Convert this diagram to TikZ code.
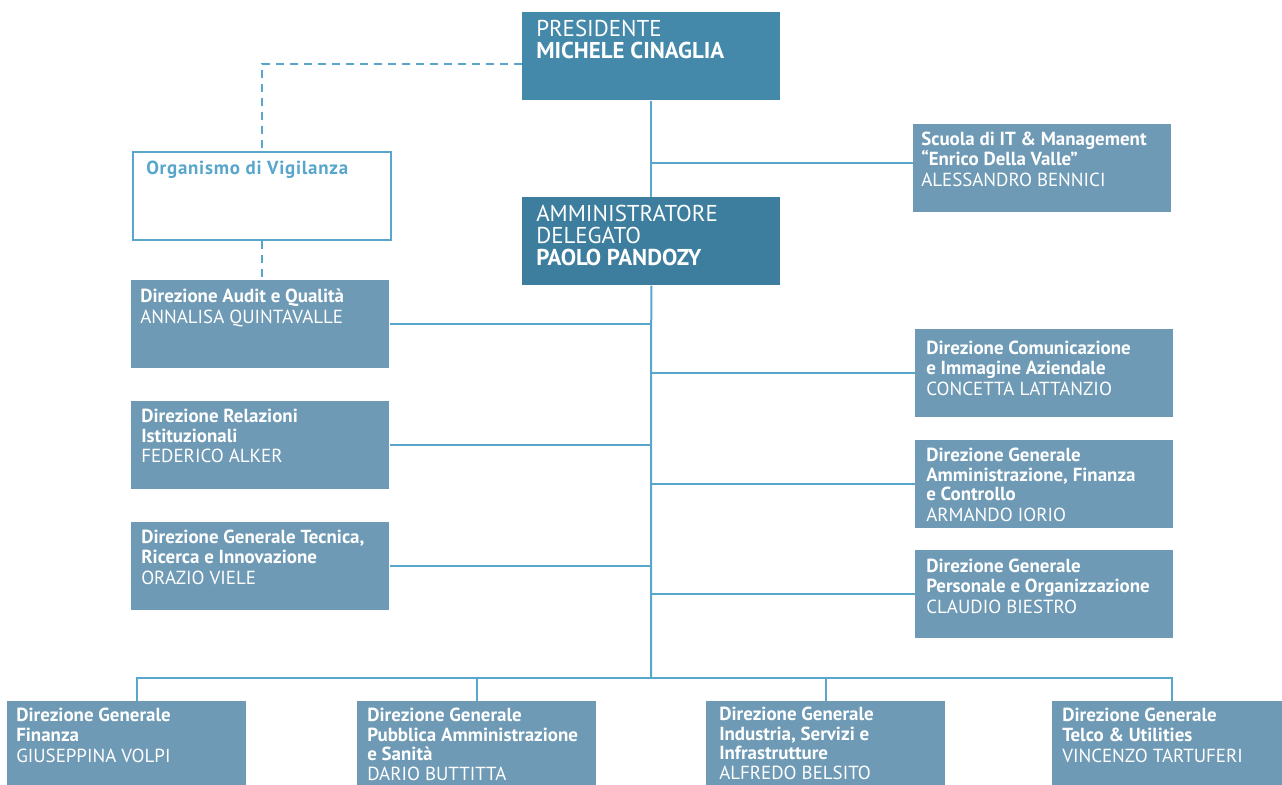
\documentclass[tikz,border=0pt]{standalone}
\usepackage{fontspec}
\setmainfont{PT Sans}
\newfontfamily\spacedfont[LetterSpace=4]{PT Sans}
\usetikzlibrary{positioning}
\definecolor{linkblue}{RGB}{88,166,204}
\definecolor{topblue}{RGB}{69,137,170}
\definecolor{headblue}{RGB}{61,125,158}
\definecolor{unitblue}{RGB}{110,154,181}
\tikzset{unitbox/.style={anchor=north west, fill=unitblue, minimum width=193.5pt, minimum height=66pt, inner sep=0pt},
lowerbox/.style={unitbox, minimum width=179.25pt},
topbox/.style={unitbox, fill=topblue},
unittext/.style={anchor=north west, inner sep=0pt, align=left, text=white, font=\fontsize{14.2}{14.6}\selectfont},
toptext/.style={unittext, font=\fontsize{17.2}{16.3}\selectfont},
link/.style={draw=linkblue, line width=1.5pt},
dashlink/.style={link, dash pattern=on 6pt off 4.5pt}}

\begin{document}
\begin{tikzpicture}[x=0.75pt, y=-0.75pt]
    \useasboundingbox (0,0) rectangle (1282,785);

    % Top level
    \node[topbox] (pres) at (522,12) {};
    \node[toptext] (pres-text) at ([shift={(14,8)}]pres.north west) {PRESIDENTE\\\textbf{MICHELE CINAGLIA}};
    \node[topbox, fill=headblue] (ad) at (522,197) {};
    \node[toptext] (ad-text) at ([shift={(14,8)}]ad.north west) {AMMINISTRATORE\\DELEGATO\\\textbf{PAOLO PANDOZY}};

    \node[unitbox, fill=white, draw=linkblue, line width=1.5pt] (odv) at (132,151) {};
    \node[unittext, text=linkblue] (odv-text) at ([shift={(14,10)}]odv.north west) {\spacedfont\bfseries Organismo di Vigilanza};

    \node[unitbox] (scuola) at (913,124) {};
    \node[unittext] (scuola-text) at ([shift={(8,8)}]scuola.north west) {\textbf{Scuola di IT \& Management}\\\textbf{``Enrico Della Valle''}\\[1pt]ALESSANDRO BENNICI};

    % Staff directions, left
    \node[unitbox] (audit) at (131,280) {};
    \node[unittext] (audit-text) at ([shift={(9,9)}]audit.north west) {\textbf{Direzione Audit e Qualità}\\[1pt]ANNALISA QUINTAVALLE};
    \node[unitbox] (relaz) at (131,401) {};
    \node[unittext] (relaz-text) at ([shift={(10,8)}]relaz.north west) {\textbf{Direzione Relazioni}\\\textbf{Istituzionali}\\[1pt]FEDERICO ALKER};
    \node[unitbox] (tecnica) at (131,522) {};
    \node[unittext] (tecnica-text) at ([shift={(10,8)}]tecnica.north west) {\textbf{Direzione Generale Tecnica,}\\\textbf{Ricerca e Innovazione}\\[1pt]ORAZIO VIELE};

    % Staff directions, right
    \node[unitbox] (comun) at (915,329) {};
    \node[unittext] (comun-text) at ([shift={(11,12)}]comun.north west) {\textbf{Direzione Comunicazione}\\\textbf{e Immagine Aziendale}\\[1pt]CONCETTA LATTANZIO};
    \node[unitbox] (afc) at (915,440) {};
    \node[unittext] (afc-text) at ([shift={(11,8)}]afc.north west) {\textbf{Direzione Generale}\\\textbf{Amministrazione, Finanza}\\\textbf{e Controllo}\\[1pt]ARMANDO IORIO};
    \node[unitbox] (pers) at (915,550) {};
    \node[unittext] (pers-text) at ([shift={(11,9)}]pers.north west) {\textbf{Direzione Generale}\\\textbf{Personale e Organizzazione}\\[1pt]CLAUDIO BIESTRO};

    % Business directions
    \node[lowerbox] (fin) at (7,701) {};
    \node[unittext] (fin-text) at ([shift={(9,7)}]fin.north west) {\textbf{Direzione Generale}\\\textbf{Finanza}\\[1pt]GIUSEPPINA VOLPI};
    \node[lowerbox] (pa) at (357,701) {};
    \node[unittext] (pa-text) at ([shift={(10,7)}]pa.north west) {\textbf{Direzione Generale}\\\textbf{Pubblica Amministrazione}\\\textbf{e Sanità}\\[0.5pt]DARIO BUTTITTA};
    \node[lowerbox] (isi) at (706,701) {};
    \node[unittext] (isi-text) at ([shift={(13,6)}]isi.north west) {\textbf{Direzione Generale}\\\textbf{Industria, Servizi e}\\\textbf{Infrastrutture}\\[0.5pt]ALFREDO BELSITO};
    \node[lowerbox] (telco) at (1052,701) {};
    \node[unittext] (telco-text) at ([shift={(10,7)}]telco.north west) {\textbf{Direzione Generale}\\\textbf{Telco \& Utilities}\\[1pt]VINCENZO TARTUFERI};

    % Connectors
    \coordinate (bus) at (651,678);
    \draw[link] (pres.south) -- (ad.north);
    \draw[link] (ad.south) -- (bus);
    \draw[link] ([yshift=4pt]scuola.west) -- ([yshift=4pt]scuola.west -| pres.south);
    \foreach \unit in {audit, relaz, tecnica}
        \draw[link] (\unit.east) -- (\unit.east -| ad.south);
    \foreach \unit in {comun, afc, pers}
        \draw[link] (\unit.west) -- (\unit.west -| ad.south);
    \draw[link] ([xshift=8pt]fin.north) |- (bus) -| (telco.north);
    \foreach \unit in {pa, isi}
        \draw[link] (\unit.north) -- (\unit.north |- bus);

    % Dashed links
    \draw[dashlink] ([yshift=-6pt]pres.west) -| (odv.north);
    \draw[dashlink] (odv.south) -- (odv.south |- audit.north);
\end{tikzpicture}
\end{document}
